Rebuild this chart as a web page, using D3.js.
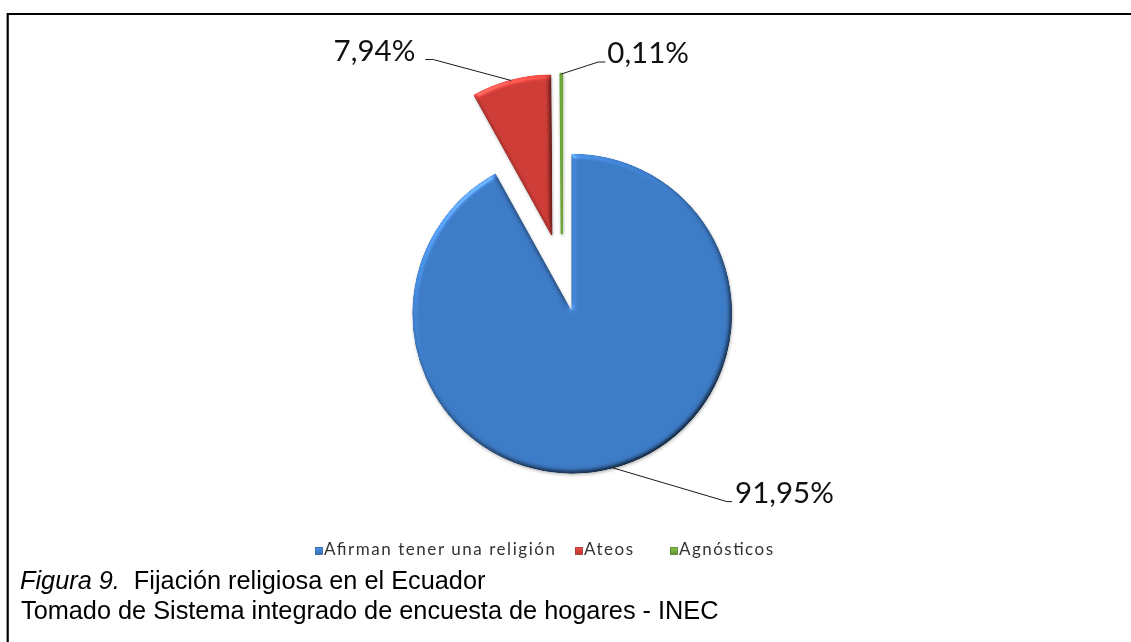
<!DOCTYPE html>
<html>
<head>
<meta charset="utf-8">
<script src="https://cdn.jsdelivr.net/npm/d3@7"></script>
<style>
  html, body { margin: 0; padding: 0; background: #ffffff; }
  svg { display: block; }
</style>
</head>
<body>
<svg id="chart" width="1131" height="642"></svg>
<script>
// ---- data ----
const categories = ["Afirman tener una religión", "Ateos", "Agnósticos"];
const shares = [91.95, 7.94, 0.11];
const sliceColors = ["#3d7bc6", "#cf3d37", "#6fa53c"];
const captionFigure = "Figura 9.";
const captionTitle = "Fijación religiosa en el Ecuador";
const captionSource = "Tomado de Sistema integrado de encuesta de hogares - INEC";

// ---- layout ----
const W = 1131, H = 642;
const cx = 562, cy = 274, radius = 159, explode = 41;
// leader-line elbow relative to the point where the line leaves the slice,
// plus text placement relative to the elbow
const labelLayout = [
  { dx: 115, dy: 34, tail: 5, textDx: 8, anchor: "start" },
  { dx: -78, dy: -21, tail: -8, textDx: -18, anchor: "end" },
  { dx: 37, dy: -12, tail: 7, textDx: 9, anchor: "start" }
];
const legendLayout = [
  { x: 315, textLength: 231 },
  { x: 575, textLength: 49 },
  { x: 670, textLength: 94 }
];
const legendY = 547, legendBox = 7;

const svg = d3.select("#chart");
const defs = svg.append("defs");

// soft rounded bevel: diffuse shading plus a faint specular rim
const bevel = defs.append("filter")
  .attr("id", "bevel")
  .attr("x", "-5%").attr("y", "-5%").attr("width", "110%").attr("height", "110%")
  .attr("color-interpolation-filters", "sRGB");
bevel.append("feGaussianBlur").attr("in", "SourceAlpha").attr("stdDeviation", 2.6).attr("result", "blur");
bevel.append("feDiffuseLighting")
  .attr("in", "blur").attr("surfaceScale", 2.6).attr("diffuseConstant", 1)
  .attr("lighting-color", "#ffffff").attr("result", "diff")
  .append("feDistantLight").attr("azimuth", 235).attr("elevation", 55);
bevel.append("feComposite").attr("in", "SourceGraphic").attr("in2", "diff")
  .attr("operator", "arithmetic").attr("k1", 1.22).attr("k2", 0).attr("k3", 0).attr("k4", 0)
  .attr("result", "lit");
bevel.append("feSpecularLighting")
  .attr("in", "blur").attr("surfaceScale", 2.6).attr("specularConstant", 0.45)
  .attr("specularExponent", 40).attr("lighting-color", "#ffffff").attr("result", "spec")
  .append("feDistantLight").attr("azimuth", 235).attr("elevation", 35);
bevel.append("feComposite").attr("in", "spec").attr("in2", "SourceAlpha")
  .attr("operator", "in").attr("result", "specIn");
bevel.append("feComposite").attr("in", "lit").attr("in2", "specIn")
  .attr("operator", "arithmetic").attr("k1", 0).attr("k2", 1).attr("k3", 0.35).attr("k4", 0)
  .attr("result", "shaded");
bevel.append("feComposite").attr("in", "shaded").attr("in2", "SourceAlpha").attr("operator", "in");

const shadow = defs.append("filter")
  .attr("id", "shadow")
  .attr("x", "-10%").attr("y", "-10%").attr("width", "120%").attr("height", "120%");
shadow.append("feDropShadow").attr("dx", 0.5).attr("dy", 1.5).attr("stdDeviation", 1.6)
  .attr("flood-color", "#000").attr("flood-opacity", 0.28);

// legend swatch gradients
sliceColors.forEach((c, i) => {
  const g = defs.append("linearGradient").attr("id", "swatch" + i)
    .attr("x1", 0).attr("y1", 0).attr("x2", 0).attr("y2", 1);
  g.append("stop").attr("offset", 0).attr("stop-color", d3.color(c).brighter(0.5));
  g.append("stop").attr("offset", 1).attr("stop-color", d3.color(c).darker(0.3));
});

// ---- frame ----
svg.append("path")
  .attr("d", `M7.7,${H} V14 H${W}`)
  .attr("fill", "none").attr("stroke", "#000").attr("stroke-width", 2.2);

// ---- pie ----
const pie = d3.pie().sort(null).value(d => d).startAngle(0).endAngle(2 * Math.PI);
const arcs = pie(shares);
const arcGen = d3.arc().innerRadius(0).outerRadius(radius);
const edgeArc = d3.arc().innerRadius(radius + explode).outerRadius(radius + explode);

const pieG = svg.append("g").attr("filter", "url(#shadow)");
pieG.selectAll("path")
  .data(arcs)
  .join("path")
  .attr("transform", d => {
    const mid = (d.startAngle + d.endAngle) / 2;
    return `translate(${cx + explode * Math.sin(mid)},${cy - explode * Math.cos(mid)})`;
  })
  .attr("d", arcGen)
  .attr("fill", (d, i) => sliceColors[i])
  .attr("stroke", (d, i) => sliceColors[i])
  // very thin slices keep a visible outline
  .attr("stroke-width", d => (d.endAngle - d.startAngle) < 0.05 ? 2.6 : 1.8)
  .attr("stroke-linejoin", "round")
  .attr("filter", d => (d.endAngle - d.startAngle) < 0.05 ? null : "url(#bevel)");

// ---- value labels with leader lines ----
const locale = d3.formatLocale({ decimal: ",", thousands: ".", grouping: [3], currency: ["", ""] });
const fmt = v => locale.format(".2f")(v) + "%";

const labelG = svg.append("g");
arcs.forEach((d, i) => {
  const [ex, ey] = edgeArc.centroid(d);
  const x0 = cx + ex, y0 = cy + ey;
  const L = labelLayout[i];
  const x1 = x0 + L.dx, y1 = y0 + L.dy;
  labelG.append("path")
    .attr("d", `M${x0},${y0} L${x1},${y1} H${x1 + L.tail}`)
    .attr("fill", "none").attr("stroke", "#1a1a1a").attr("stroke-width", 1);
  labelG.append("text")
    .attr("x", x1 + L.textDx)
    .attr("y", y1 + 1)
    .attr("text-anchor", L.anchor)
    .attr("font-family", "Lato, 'Open Sans', sans-serif")
    .attr("font-size", 29.5)
    .attr("fill", "#111")
    .text(fmt(d.data));
});

// ---- legend ----
const legendG = svg.append("g");
categories.forEach((name, i) => {
  const L = legendLayout[i];
  legendG.append("rect")
    .attr("x", L.x + 0.5).attr("y", legendY + 0.5)
    .attr("width", legendBox).attr("height", legendBox)
    .attr("fill", `url(#swatch${i})`)
    .attr("stroke", d3.color(sliceColors[i]).darker(0.8)).attr("stroke-width", 0.8);
  legendG.append("text")
    .attr("x", L.x + legendBox + 2)
    .attr("y", legendY + 7.5)
    .attr("font-family", "Lato, 'Open Sans', sans-serif")
    .attr("font-size", 17)
    .attr("fill", "#333")
    .attr("textLength", L.textLength)
    .attr("lengthAdjust", "spacing")
    .text(name);
});

// ---- caption ----
const cap = svg.append("g")
  .attr("font-family", "'Liberation Sans', Arial, sans-serif")
  .attr("font-size", 25.3)
  .attr("fill", "#000");
const line1 = cap.append("text").attr("x", 20).attr("y", 589);
line1.append("tspan").attr("font-style", "italic").text(captionFigure);
line1.append("tspan").attr("dx", 7).text(" " + captionTitle);
cap.append("text").attr("x", 21).attr("y", 619).text(captionSource);
</script>
</body>
</html>
